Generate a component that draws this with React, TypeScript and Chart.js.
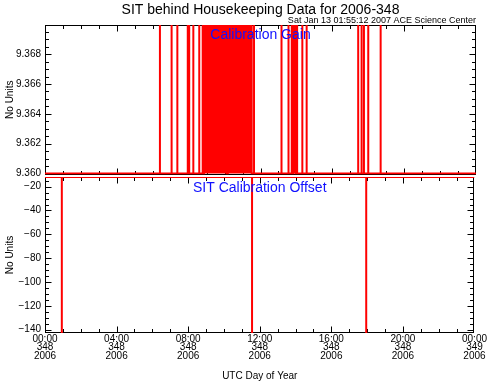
import { useEffect, useRef } from 'react';
import { Chart, registerables } from 'chart.js';

Chart.register(...registerables);

const FONT = '"Liberation Sans", Arial, sans-serif';
const RED = '#ff0000';
const BLUE = '#1010ff';

// ---- data ----
const hourTicks = [0, 4, 8, 12, 16, 20, 24];
const hourMinorStep = 1;
const hourLabels = [
  ['00:00', '348', '2006'],
  ['04:00', '348', '2006'],
  ['08:00', '348', '2006'],
  ['12:00', '348', '2006'],
  ['16:00', '348', '2006'],
  ['20:00', '348', '2006'],
  ['00:00', '349', '2006'],
];

const gainTicks = [9.36, 9.362, 9.364, 9.366, 9.368];
const gainMinorStep = 0.0005;
const gainBase = 9.36;
const gainHigh = 9.372;
const gainSpikes = [
  6.4, 7.05, 7.37, 7.95, 8.03, 8.26, 8.59, 8.78, 11.64, 13.17, 13.56, 13.74,
  14.04, 14.33, 14.57, 17.44, 17.63, 17.76, 18.0, 18.69,
];
const gainBlocks = [
  [8.85, 10.12],
  [10.18, 11.51],
  [13.82, 13.96],
];

const offsetTicks = [-140, -120, -100, -80, -60, -40, -20];
const offsetMinorStep = 5;
const offsetBase = -12;
const offsetLow = -150;
const offsetSpikes = [0.94, 11.57, 17.95];
const offsetBlocks: number[][] = [];

// ---- helpers ----
function buildSeries(base: number, peak: number, spikes: number[], blocks: number[][]) {
  const events = [...spikes.map((t) => [t, t]), ...blocks].sort((a, b) => a[0] - b[0]);
  const pts: { x: number; y: number }[] = [{ x: 0, y: base }];
  for (const [s, e] of events) {
    pts.push({ x: s, y: base }, { x: s, y: peak });
    if (e > s) pts.push({ x: e, y: peak });
    pts.push({ x: e, y: base });
  }
  pts.push({ x: 24, y: base });
  return pts;
}

function minorValues(from: number, to: number, step: number) {
  const out: number[] = [];
  const n = Math.round((to - from) / step);
  for (let i = 0; i <= n; i++) out.push(from + i * step);
  return out;
}

const MAJOR = 6;
const MINOR = 3.5;

function framePlugin(id: string, yMajor: number[], yMinor: number[], drawText: (ctx: CanvasRenderingContext2D, a: any) => void) {
  return {
    id,
    beforeDatasetsDraw(chart: any) {
      const { ctx, chartArea: a, scales } = chart;
      const xs = scales.x;
      const ys = scales.y;
      ctx.save();
      ctx.strokeStyle = '#000';
      ctx.lineWidth = 1;
      const L = Math.round(a.left) + 0.5;
      const R = Math.round(a.right) - 0.5;
      const T = Math.round(a.top) + 0.5;
      const B = Math.round(a.bottom) - 0.5;
      ctx.strokeRect(L, T, R - L, B - T);
      ctx.beginPath();
      for (let h = 0; h <= 24; h += hourMinorStep) {
        const len = hourTicks.includes(h) ? MAJOR : MINOR;
        let px = Math.round(xs.getPixelForValue(h)) + 0.5;
        if (px > R) px = R;
        ctx.moveTo(px, B);
        ctx.lineTo(px, B - len);
        ctx.moveTo(px, T);
        ctx.lineTo(px, T + len);
      }
      for (const v of yMinor) {
        const isMajor = yMajor.some((m) => Math.abs(m - v) < 1e-9);
        const len = isMajor ? MAJOR : MINOR;
        const py = Math.round(ys.getPixelForValue(v)) + 0.5;
        if (py < T || py > B + 0.6) continue;
        ctx.moveTo(L, py);
        ctx.lineTo(L + len, py);
        ctx.moveTo(R, py);
        ctx.lineTo(R - len, py);
      }
      ctx.stroke();
      ctx.restore();
    },
    afterDatasetsDraw(chart: any) {
      const { ctx, chartArea: a } = chart;
      ctx.save();
      drawText(ctx, a);
      ctx.restore();
    },
  };
}

function drawYTitle(ctx: CanvasRenderingContext2D, a: any) {
  ctx.save();
  ctx.fillStyle = '#000';
  ctx.font = `10px ${FONT}`;
  ctx.textAlign = 'center';
  ctx.textBaseline = 'alphabetic';
  ctx.translate(12.5, (a.top + a.bottom) / 2);
  ctx.rotate(-Math.PI / 2);
  ctx.fillText('No Units', 0, 0);
  ctx.restore();
}

export default function App() {
  const topRef = useRef<HTMLCanvasElement>(null);
  const botRef = useRef<HTMLCanvasElement>(null);

  useEffect(() => {
    const gainData = buildSeries(gainBase, gainHigh, gainSpikes, gainBlocks);
    const offsetData = buildSeries(offsetBase, offsetLow, offsetSpikes, offsetBlocks);

    const topPlugin = framePlugin('frameTop', gainTicks, minorValues(9.36, 9.3695, gainMinorStep), (ctx, a) => {
      const cx = (a.left + a.right) / 2;
      ctx.fillStyle = '#000';
      ctx.textAlign = 'center';
      ctx.textBaseline = 'alphabetic';
      ctx.font = `14px ${FONT}`;
      ctx.fillText('SIT behind Housekeeping Data for 2006-348', cx, 13.5);
      ctx.font = `9px ${FONT}`;
      ctx.textAlign = 'right';
      ctx.fillText('Sat Jan 13 01:55:12 2007 ACE Science Center', a.right, 23);
      ctx.fillStyle = BLUE;
      ctx.textAlign = 'center';
      ctx.font = `14px ${FONT}`;
      ctx.fillText('Calibration Gain', cx, 39);
      drawYTitle(ctx, a);
    });

    const botPlugin = framePlugin('frameBot', offsetTicks, minorValues(-140, -15, offsetMinorStep), (ctx, a) => {
      const cx = (a.left + a.right) / 2;
      ctx.fillStyle = BLUE;
      ctx.textAlign = 'center';
      ctx.textBaseline = 'alphabetic';
      ctx.font = `14px ${FONT}`;
      ctx.fillText('SIT Calibration Offset', cx, 192);
      ctx.fillStyle = '#000';
      ctx.font = `10px ${FONT}`;
      ctx.fillText('UTC Day of Year', cx, 379);
      drawYTitle(ctx, a);
    });

    const yCommon = (ticks: number[], fmt: (v: number) => string) => ({
      type: 'linear' as const,
      position: 'left' as const,
      afterFit: (s: any) => {
        s.width = 45;
      },
      afterBuildTicks: (s: any) => {
        s.ticks = ticks.map((v) => ({ value: v }));
      },
      grid: { display: false, drawTicks: false },
      border: { display: false },
      ticks: {
        padding: 4,
        color: '#000',
        font: { family: FONT, size: 10 },
        callback: (v: any) => fmt(Number(v)),
      },
    });

    const top = new Chart(topRef.current!, {
      type: 'line',
      data: {
        datasets: [
          {
            data: gainData,
            borderColor: RED,
            backgroundColor: RED,
            borderWidth: 2,
            pointRadius: 0,
            tension: 0,
            fill: { value: gainBase },
          },
        ],
      },
      options: {
        animation: false,
        responsive: false,
        events: [],
        layout: { padding: { left: 0, right: 13, top: 25, bottom: 382 - 174.5 } },
        plugins: { legend: { display: false }, tooltip: { enabled: false }, title: { display: false } },
        scales: {
          x: { type: 'linear', min: 0, max: 24, display: false },
          y: { ...yCommon(gainTicks, (v) => v.toFixed(3)), min: 9.35993, max: 9.36996 },
        },
      },
      plugins: [topPlugin],
    } as any);

    const bot = new Chart(botRef.current!, {
      type: 'line',
      data: {
        datasets: [
          {
            data: offsetData,
            borderColor: RED,
            borderWidth: 2,
            pointRadius: 0,
            tension: 0,
            fill: false,
          },
        ],
      },
      options: {
        animation: false,
        responsive: false,
        events: [],
        layout: { padding: { left: 0, right: 13, top: 177, bottom: 0 } },
        plugins: { legend: { display: false }, tooltip: { enabled: false }, title: { display: false } },
        scales: {
          x: {
            type: 'linear',
            min: 0,
            max: 24,
            afterFit: (s: any) => {
              s.height = 49;
            },
            afterBuildTicks: (s: any) => {
              s.ticks = hourTicks.map((v) => ({ value: v }));
            },
            grid: { display: false, drawTicks: false },
            border: { display: false },
            ticks: {
              padding: 2,
              autoSkip: false,
              maxRotation: 0,
              color: '#000',
              font: { family: FONT, size: 10, lineHeight: 0.83 },
              callback: (v: any) => {
                const i = hourTicks.indexOf(Number(v));
                return i >= 0 ? hourLabels[i] : '';
              },
            },
          },
          y: {
            ...yCommon(offsetTicks, (v) => (v < 0 ? '\u2212' + Math.abs(v) : String(v))),
            min: -142.8,
            max: -11.9,
          },
        },
      },
      plugins: [botPlugin],
    } as any);

    return () => {
      top.destroy();
      bot.destroy();
    };
  }, []);

  const cs: any = { position: 'absolute', left: 0, top: 0, width: 489, height: 382 };
  return (
    <div style={{ position: 'fixed', left: 0, top: 0, width: 489, height: 382, background: '#fff' }}>
      <canvas ref={topRef} width={489} height={382} style={cs} />
      <canvas ref={botRef} width={489} height={382} style={cs} />
    </div>
  );
}
